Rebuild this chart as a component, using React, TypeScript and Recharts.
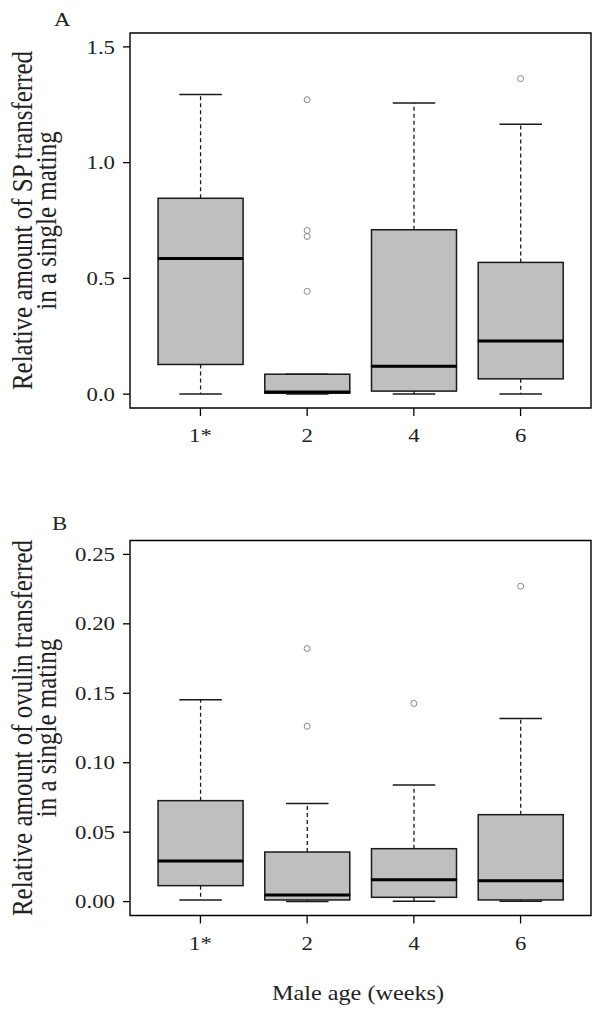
import React from 'react';
import { ComposedChart, Bar, Scatter, XAxis, YAxis, ReferenceArea } from 'recharts';

// ---------- data ----------
const categories = ['1*', '2', '4', '6'];
const catPos = [1, 2, 3, 4];

// Panel A: relative amount of SP
const spLow = [0, 0, 0, 0];
const spQ1 = [0.128, 0.004, 0.013, 0.066];
const spMedian = [0.586, 0.009, 0.12, 0.229];
const spQ3 = [0.846, 0.086, 0.71, 0.569];
const spHigh = [1.294, 0.086, 1.258, 1.166];
const spOutliers = [[], [1.272, 0.707, 0.681, 0.444], [], [1.363]];
const spTicks = [0, 0.5, 1.0, 1.5];
const spDomain = [-0.06, 1.56];

// Panel B: relative amount of ovulin
const ovLow = [0.0012, 0, 0.0002, 0.0003];
const ovQ1 = [0.0115, 0.0012, 0.0031, 0.0012];
const ovMedian = [0.0292, 0.0047, 0.0158, 0.0151];
const ovQ3 = [0.0727, 0.0357, 0.0381, 0.0626];
const ovHigh = [0.1453, 0.0707, 0.0839, 0.1319];
const ovOutliers = [[], [0.1822, 0.1263], [0.1427], [0.2271]];
const ovTicks = [0, 0.05, 0.1, 0.15, 0.2, 0.25];
const ovDomain = [-0.01, 0.26];

const xDomain = [0.34, 4.66];

// ---------- helpers ----------
const FONT = "'Liberation Serif', 'Times New Roman', serif";
const SX = 1.2;
const TEXT = '#222';
const BOX_FILL = '#bfbfbf';
const LINE = '#1a1a1a';
const TICK_FS = 19;

function buildBoxData(low: number[], q1: number[], med: number[], q3: number[], high: number[]) {
  return categories.map((c, i) => ({
    x: catPos[i],
    name: c,
    base: low[i],
    lowW: q1[i] - low[i],
    boxLow: med[i] - q1[i],
    boxHigh: q3[i] - med[i],
    upW: high[i] - q3[i],
  }));
}

function buildOutliers(out: number[][]) {
  const res: { x: number; y: number }[] = [];
  out.forEach((arr, i) => arr.forEach((v) => res.push({ x: catPos[i], y: v })));
  return res;
}

const EmptyShape = () => <g />;

const LowerWhisker = (p: any) => {
  const { x, y, width, height } = p;
  const cx = x + width / 2;
  const capW = width / 2;
  return (
    <g>
      <line x1={cx} x2={cx} y1={y} y2={y + height} stroke={LINE} strokeWidth={1.3} strokeDasharray="4 3" />
      <line x1={cx - capW / 2} x2={cx + capW / 2} y1={y + height} y2={y + height} stroke={LINE} strokeWidth={1.5} />
    </g>
  );
};

const UpperWhisker = (p: any) => {
  const { x, y, width, height } = p;
  const cx = x + width / 2;
  const capW = width / 2;
  return (
    <g>
      <line x1={cx} x2={cx} y1={y + height} y2={y} stroke={LINE} strokeWidth={1.3} strokeDasharray="4 3" />
      <line x1={cx - capW / 2} x2={cx + capW / 2} y1={y} y2={y} stroke={LINE} strokeWidth={1.5} />
    </g>
  );
};

const BoxLowShape = (p: any) => {
  const { x, y, width, height } = p;
  return <rect x={x} y={y} width={width} height={Math.max(height, 0)} fill={BOX_FILL} stroke={LINE} strokeWidth={1.5} />;
};

const BoxHighShape = (p: any) => {
  const { x, y, width, height } = p;
  return (
    <g>
      <rect x={x} y={y} width={width} height={Math.max(height, 0)} fill={BOX_FILL} stroke={LINE} strokeWidth={1.5} />
      <line x1={x} x2={x + width} y1={y + height} y2={y + height} stroke="#000" strokeWidth={3} />
    </g>
  );
};

const OutlierShape = (p: any) => {
  const { cx, cy } = p;
  return <circle cx={cx} cy={cy} r={3} fill="none" stroke="#8a8a8a" strokeWidth={1} />;
};

const XTick = (p: any) => {
  const { x, y, payload } = p;
  const idx = catPos.indexOf(payload.value);
  return (
    <g transform={`translate(${x},${y}) scale(${SX},1)`}>
      <text x={0} y={0} dy="0.71em" textAnchor="middle" fontFamily={FONT} fontSize={TICK_FS} fill={TEXT}>
        {idx >= 0 ? categories[idx] : ''}
      </text>
    </g>
  );
};

const makeYTick = (dec: number) => (p: any) => {
  const { x, y, payload } = p;
  return (
    <g transform={`translate(${x},${y}) scale(${SX},1)`}>
      <text x={0} y={0} dy="0.35em" textAnchor="end" fontFamily={FONT} fontSize={TICK_FS} fill={TEXT}>
        {Number(payload.value).toFixed(dec)}
      </text>
    </g>
  );
};

type PanelProps = {
  top: number;
  height: number;
  marginTop: number;
  marginBottom: number;
  data: any[];
  outliers: { x: number; y: number }[];
  domain: number[];
  ticks: number[];
  dec: number;
};

const Panel = ({ top, height, marginTop, marginBottom, data, outliers, domain, ticks, dec }: PanelProps) => (
  <div style={{ position: 'absolute', left: 0, top, width: 601, height }}>
    <ComposedChart
      width={601}
      height={height}
      data={data}
      margin={{ top: marginTop, right: 10, bottom: marginBottom, left: 70 }}
    >
      <XAxis
        type="number"
        dataKey="x"
        domain={xDomain}
        ticks={catPos}
        interval={0}
        allowDataOverflow
        axisLine={false}
        tickLine={{ stroke: '#000', strokeWidth: 1.3 }}
        tickSize={8}
        tickMargin={13}
        height={40}
        tick={XTick}
      />
      <YAxis
        type="number"
        domain={domain}
        ticks={ticks}
        interval={0}
        allowDataOverflow
        axisLine={false}
        tickLine={{ stroke: '#000', strokeWidth: 1.3 }}
        tickSize={7}
        tickMargin={8}
        width={60}
        tick={makeYTick(dec)}
      />
      <Bar dataKey="base" stackId="s" barSize={85} shape={EmptyShape} isAnimationActive={false} />
      <Bar dataKey="lowW" stackId="s" barSize={85} shape={LowerWhisker} isAnimationActive={false} />
      <Bar dataKey="boxLow" stackId="s" barSize={85} shape={BoxLowShape} isAnimationActive={false} />
      <Bar dataKey="boxHigh" stackId="s" barSize={85} shape={BoxHighShape} isAnimationActive={false} />
      <Bar dataKey="upW" stackId="s" barSize={85} shape={UpperWhisker} isAnimationActive={false} />
      <Scatter data={outliers} dataKey="y" shape={OutlierShape} isAnimationActive={false} />
      <ReferenceArea
        x1={xDomain[0]}
        x2={xDomain[1]}
        y1={domain[0]}
        y2={domain[1]}
        fill="none"
        fillOpacity={0}
        stroke="#000"
        strokeWidth={1.4}
        ifOverflow="visible"
      />
    </ComposedChart>
  </div>
);

const spData = buildBoxData(spLow, spQ1, spMedian, spQ3, spHigh);
const ovData = buildBoxData(ovLow, ovQ1, ovMedian, ovQ3, ovHigh);
const spOut = buildOutliers(spOutliers);
const ovOut = buildOutliers(ovOutliers);

const YLabel = ({ cy, lines }: { cy: number; lines: string[] }) => (
  <g>
    <g transform={`translate(31.5,${cy}) scale(${SX},1) rotate(-90)`}>
      <text x={0} y={0} textAnchor="middle" fontFamily={FONT} fontSize={25} fill={TEXT}>{lines[0]}</text>
    </g>
    <g transform={`translate(56,${cy}) scale(${SX},1) rotate(-90)`}>
      <text x={0} y={0} textAnchor="middle" fontFamily={FONT} fontSize={25} fill={TEXT}>{lines[1]}</text>
    </g>
  </g>
);

export default function App() {
  return (
    <div style={{ position: 'absolute', left: 0, top: 0, width: 601, height: 1013, background: '#fff' }}>
      <Panel top={0} height={450} marginTop={33} marginBottom={2} data={spData} outliers={spOut} domain={spDomain} ticks={spTicks} dec={1} />
      <Panel top={500} height={460} marginTop={40.5} marginBottom={4.5} data={ovData} outliers={ovOut} domain={ovDomain} ticks={ovTicks} dec={2} />
      <svg width={601} height={1013} style={{ position: 'absolute', left: 0, top: 0, pointerEvents: 'none' }}>
        <g transform={`translate(54,26) scale(${SX},1)`}>
          <text x={0} y={0} fontFamily={FONT} fontSize={19} fill={TEXT}>A</text>
        </g>
        <g transform={`translate(52,530) scale(${SX},1)`}>
          <text x={0} y={0} fontFamily={FONT} fontSize={19} fill={TEXT}>B</text>
        </g>
        <YLabel cy={220.5} lines={['Relative amount of SP transferred', 'in a single mating']} />
        <YLabel cy={728} lines={['Relative amount of ovulin transferred', 'in a single mating']} />
        <g transform={`translate(358,1000) scale(1.1,1)`}>
          <text x={0} y={0} textAnchor="middle" fontFamily={FONT} fontSize={22} fill={TEXT}>Male age (weeks)</text>
        </g>
      </svg>
    </div>
  );
}
